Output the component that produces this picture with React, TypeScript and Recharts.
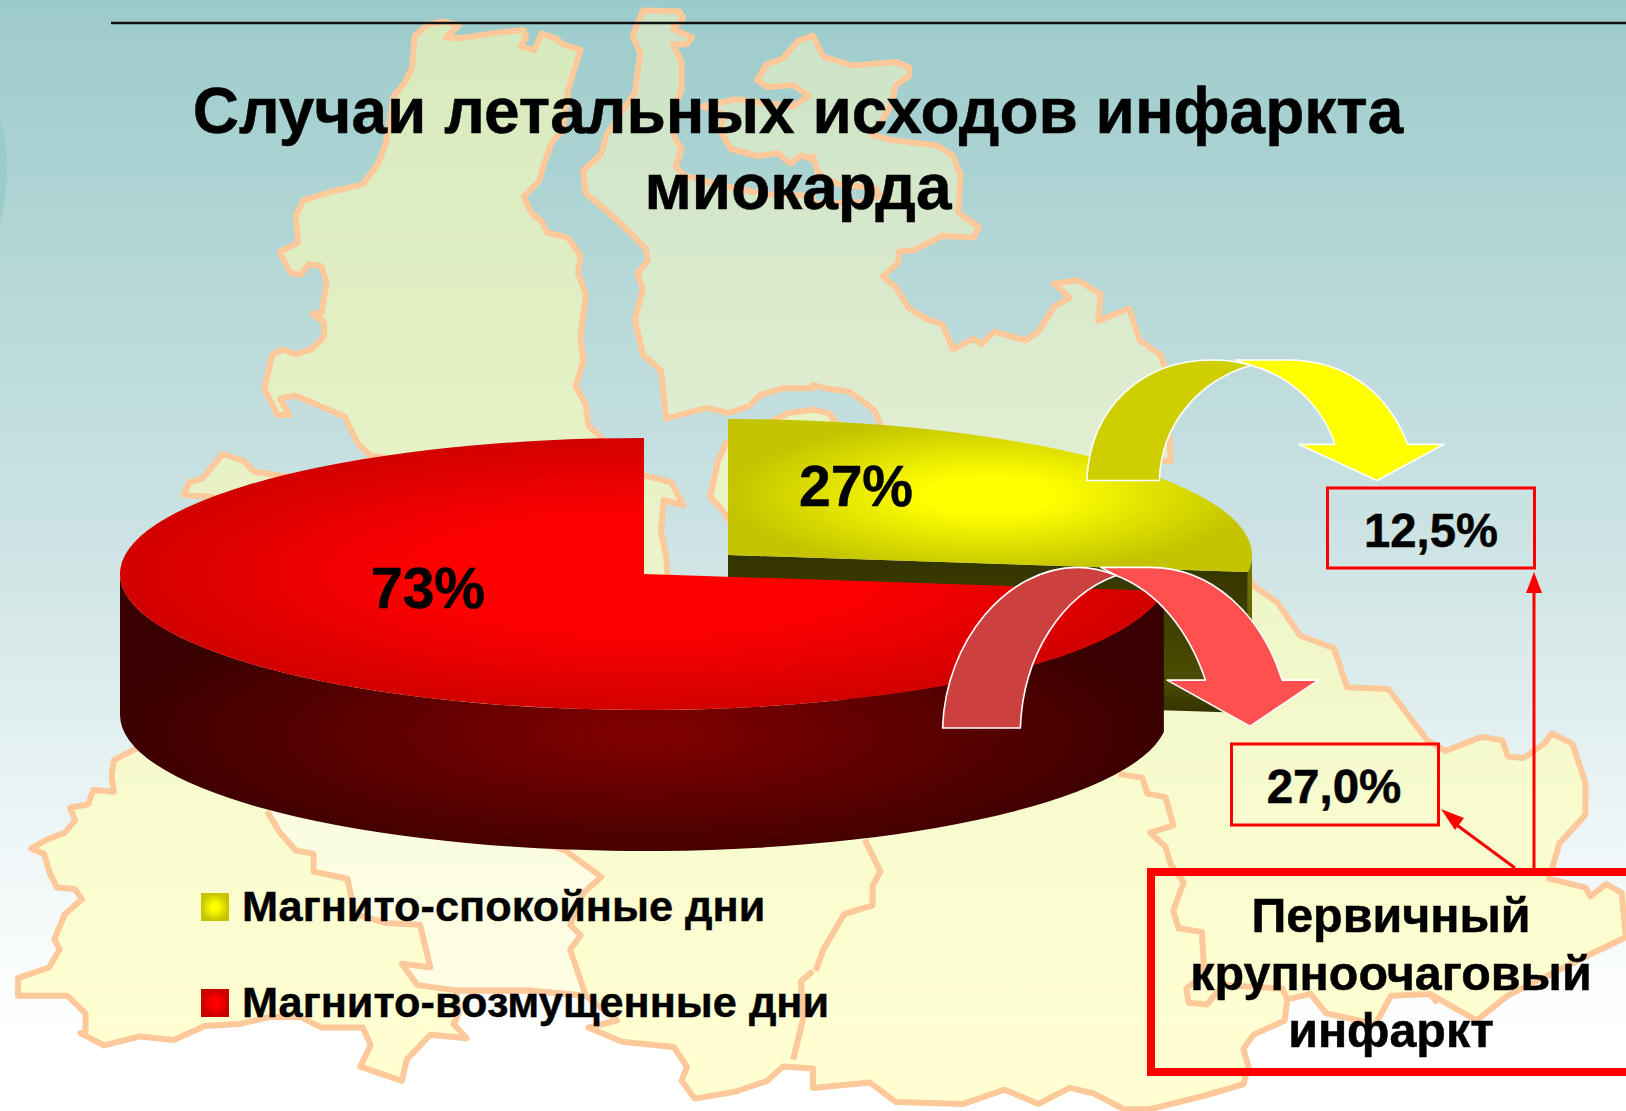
import { PieChart, Pie, Cell, Legend } from "recharts";

const categories = ["Магнито-спокойные дни", "Магнито-возмущенные дни"];
const shares = [27, 73];
const titleLines = ["Случаи летальных исходов инфаркта", "миокарда"];
const primaryInfarct = ["12,5%", "27,0%"];
const calloutLines = ["Первичный", "крупноочаговый", "инфаркт"];

const pieData = categories.map((name, i) => ({ name, value: shares[i] }));

const W = 1626;
const H = 1111;
const FONT = "'Liberation Sans', Arial, sans-serif";

// flattened 3d pie
const SQUASH = 136 / 524;
const DEPTH = 141;
const OFFSETS = [{ dx: 84, dy: -19 }, { dx: 0, dy: 0 }];
const FACES = ["url(#yellowFace)", "url(#redFace)"];
const WALLS = ["url(#yellowWall)", "url(#redWall)"];
const SWATCHES = ["url(#yellowFace)", "url(#redSwatch)"];

function Slice3D(props: any) {
  const { cx, cy, outerRadius: r, startAngle, endAngle, index } = props;
  const { dx, dy } = OFFSETS[index];
  const rx = r;
  const ry = r * SQUASH;
  const ox = cx + dx;
  const oy = cy + dy;
  const pt = (a: number, d = 0) => {
    const t = (a * Math.PI) / 180;
    return `${ox + rx * Math.cos(t)},${oy - ry * Math.sin(t) + d}`;
  };
  const hi = Math.max(startAngle, endAngle);
  const lo = Math.min(startAngle, endAngle);
  const large = hi - lo > 180 ? 1 : 0;
  const face = `M${ox},${oy} L${pt(hi)} A${rx},${ry} 0 ${large} 1 ${pt(lo)} Z`;

  // only the front half of the rim shows
  const wallHi = Math.min(hi, 0);
  const wallLo = Math.max(lo, -180);
  const wall = `M${pt(wallHi)} A${rx},${ry} 0 0 1 ${pt(wallLo)} L${pt(wallLo, DEPTH)} A${rx},${ry} 0 0 0 ${pt(wallHi, DEPTH)} Z`;
  const cut = `M${ox},${oy} L${pt(lo)} L${pt(lo, DEPTH)} L${ox},${oy + DEPTH} Z`;

  return (
    <g>
      {index === 0 && <path d={cut} fill="url(#yellowCut)" />}
      {wallHi > wallLo && <path d={wall} fill={WALLS[index]} />}
      <path d={face} fill={FACES[index]} />
    </g>
  );
}

const seg = (ox: number, oy: number, s: string) =>
  s.trim().split(/\s+/).map((p) => {
    const [x, y] = p.split(",").map(Number);
    return `${(ox + x / 1.929).toFixed(1)},${(oy + y / 2.82).toFixed(1)}`;
  }).join(" ");
const TL = (s: string) => seg(0, 0, s);
const TR = (s: string) => seg(813, 0, s);
const BL = (s: string) => seg(0, 556, s);
const BR = (s: string) => seg(813, 556, s);

const regionNorth = [
  TL("800,100 825,70 855,60 885,72 860,105 890,108 960,92 1010,85 1015,105 1005,130 1030,142 1045,95 1075,110 1085,125 1120,140 1105,210 1095,260 1085,370 1065,400 1050,460 1040,510 1010,555 1025,600 1045,625 1055,655 1095,670 1120,720 1115,770 1130,830 1120,950 1125,1020 1110,1090 1130,1140 1135,1200 1165,1240 1240,1340 1295,1360 1318,1425 1280,1410 1275,1500 1285,1568"),
  BL("1290,100"),
  TL("400,1400 355,1395 365,1360 390,1350 430,1280 470,1300 490,1330 560,1345 740,1290 715,1285 690,1250 665,1175 570,1115 540,1125 558,1170 535,1170 510,1095 525,1000 545,985 570,1000 600,985 625,950 625,910 603,885 620,885 630,800 620,750 595,745 580,775 560,770 540,710 575,685 570,610 585,565 640,540 700,520 715,490 730,460 745,400 760,270 780,235 795,190"),
].join(" ");

const regionMiddle = [
  TL("1240,30 1310,32 1318,50 1298,82 1335,105 1325,125 1298,125 1315,175 1315,250 1305,290 1300,385 1315,420 1303,470 1320,495 1400,525 1480,548 1568,552"),
  TR("0,575 100,570 130,550 120,530 50,520 10,490 0,440"),
  TL("1568,450 1545,438 1525,462 1500,432 1460,440 1410,420 1390,370 1395,320 1355,300 1420,280 1500,295 1530,300 1560,270 1530,240 1480,245 1460,225 1480,180 1510,165 1540,115 1568,100"),
  TR("0,100 20,160 75,185 160,175 185,190 185,215 160,240 150,300 115,380 150,395 240,410 270,440 285,495 280,600 320,640 310,670 250,665 195,705 165,710 165,740 135,780 160,810 185,870 220,900 250,915 270,985 310,955 325,970 350,935 410,960 435,935 465,865 495,840 465,800 510,790 555,830 550,905 610,870 630,960 670,1000 680,1040 690,1300 130,1300 130,1200 120,1160 95,1130 70,1105 25,1095 0,1085"),
  TL("1568,1095 1510,1095 1465,1115 1445,1145 1405,1165 1365,1150 1285,1180 1275,1045 1240,1000 1225,900 1240,815 1230,770 1250,735 1245,700 1190,620 1130,545 1125,480 1160,435 1170,380 1225,260 1235,150 1220,100"),
].join(" ");

const regionSouth = [
  BL("260,545 220,575 215,620 220,665 180,660 170,700 135,710 145,745 125,780 90,800 60,825 85,840 95,890 110,935 145,940 158,968 125,1010 105,1080 115,1110 95,1160 35,1190 35,1240 130,1240 165,1290 165,1340 155,1345 200,1380 270,1355 335,1365 395,1325 460,1320 520,1300 580,1300 620,1330 700,1330 715,1380 695,1440 775,1480 785,1420 830,1350 900,1360 875,1320 885,1290 880,1225 1020,1225 1130,1240 1190,1310 1135,1330 1200,1370 1300,1385 1325,1440 1315,1480 1340,1530 1420,1510 1480,1480 1510,1440 1568,1445"),
  BR("0,1500 110,1485 160,1540 290,1545 370,1505 435,1545 495,1500 540,1515 600,1560 650,1560 760,1520 830,1490 840,1440 830,1390 850,1350 910,1310 915,1250 960,1235 990,1290 1085,1320 1115,1240 1190,1235 1280,1310 1340,1240 1490,1130 1568,1075 1560,950 1530,925 1500,960 1490,935 1420,910 1440,810 1490,730 1490,640 1465,530 1425,500 1410,530 1370,570 1340,565 1330,520 1290,510 1220,550 1185,520 1110,375 1030,370 1005,260 940,225 895,130 850,85 830,30"),
  TR("700,1400 50,1200 30,1165 0,1155"),
  TL("1568,1155 1520,1165 1400,1250 1385,1300 1370,1400 1400,1450 1420,1500"),
  BL("1420,60 1300,150"),
].join(" ");

const regionCentre = BL("515,720 540,780 570,830 605,840 605,890 670,910 685,1010 745,1035 810,1040 830,1160 775,1150 805,1210 880,1225 1020,1225 1130,1240 1100,1110 1120,1070 1100,1040 1125,950 1160,905 1090,830 800,700");

const innerLines = [
  BR("100,800 130,890 115,930 115,985 60,1010 20,1110 5,1170"),
  BL("1568,1170 1545,1200 1550,1300 1530,1420"),
  BR("590,615 635,625 645,670 680,680 695,760 650,780 680,820 690,870 715,920 695,1000 705,1050 750,1060 755,1180 720,1220 725,1260 760,1265 790,1210 905,1220 915,1250"),
  BR("1190,1235 1205,1260"),
];

function Backdrop() {
  return (
    <svg width={W} height={H} style={{ position: "absolute", left: 0, top: 0 }}>
      <defs>
        <linearGradient id="sky" x1="0" y1="0" x2="0" y2="1">
          <stop offset="0" stopColor="#9ccbcb" />
          <stop offset="0.5" stopColor="#cfe4e4" />
          <stop offset="0.75" stopColor="#eef6f7" />
          <stop offset="0.93" stopColor="#ffffff" />
        </linearGradient>
        <radialGradient id="yellowFace">
          <stop offset="0.25" stopColor="#ffff00" />
          <stop offset="1" stopColor="#c4c400" />
        </radialGradient>
        <radialGradient id="redFace">
          <stop offset="0.4" stopColor="#ff0000" />
          <stop offset="1" stopColor="#d20000" />
        </radialGradient>
        <radialGradient id="redSwatch">
          <stop offset="0.25" stopColor="#ff0000" />
          <stop offset="1" stopColor="#c80000" />
        </radialGradient>
        <radialGradient id="redWall" cx="0.5" cy="0.58" r="0.52">
          <stop offset="0" stopColor="#820000" />
          <stop offset="1" stopColor="#380000" />
        </radialGradient>
        <linearGradient id="yellowWall" x1="0" y1="0" x2="0" y2="1">
          <stop offset="0" stopColor="#7a7a00" />
          <stop offset="1" stopColor="#404000" />
        </linearGradient>
        <linearGradient id="yellowCut" x1="0" y1="0" x2="0" y2="1">
          <stop offset="0" stopColor="#333300" />
          <stop offset="0.8" stopColor="#4c4c00" />
          <stop offset="1" stopColor="#333300" />
        </linearGradient>
      </defs>
      <rect width={W} height={H} fill="url(#sky)" />
      <circle cx={-193} cy={170} r={200} fill="#8fc6c6" opacity={0.6} />
      <g stroke="#fdc89a" strokeWidth={6} strokeLinejoin="round">
        <polygon points={regionNorth} fill="#ffffb4" fillOpacity={0.58} />
        <polygon points={regionMiddle} fill="#fffcc0" fillOpacity={0.48} />
        <polygon points={regionSouth} fill="#ffffb4" fillOpacity={0.62} />
        <polygon points={regionCentre} fill="#ffffff" fillOpacity={0.4} stroke="none" />
        <polyline points={regionCentre} fill="none" />
        {innerLines.map((p, i) => <polyline key={i} points={p} fill="none" />)}
      </g>
      <line x1={111} x2={W} y1={23} y2={23} stroke="#111" strokeWidth={2.5} />
    </svg>
  );
}

function Annotations() {
  const boldText = { fontFamily: FONT, fontWeight: 700, fill: "#000", stroke: "#000", strokeWidth: 0.5 };
  return (
    <svg width={W} height={H} style={{ position: "absolute", left: 0, top: 0, pointerEvents: "none" }}>
      <text x={798} y={133} textAnchor="middle" fontSize={64} {...boldText}>{titleLines[0]}</text>
      <text x={798} y={208.5} textAnchor="middle" fontSize={64} {...boldText}>{titleLines[1]}</text>

      <text x={856} y={506} textAnchor="middle" fontSize={57} {...boldText}>{shares[0]}%</text>
      <text x={428} y={608} textAnchor="middle" fontSize={57} {...boldText}>{shares[1]}%</text>

      <g transform={`translate(813 0) scale(${1 / 1.929} ${1 / 2.82})`} stroke="#fff" strokeWidth={1.6} strokeLinejoin="round">
        <path vectorEffect="non-scaling-stroke" fill="#ffff00" d="M815,1015 L915,1015 C1030,1015 1110,1110 1147,1253 L1217,1253 L1088,1355 L937,1253 L1007,1253 C980,1140 920,1060 845,1030 Z" />
        <path vectorEffect="non-scaling-stroke" fill="#cfcf00" d="M528,1355 C535,1140 640,1015 770,1015 C795,1015 820,1020 845,1030 C740,1075 672,1200 668,1355 Z" />
      </g>
      <g transform={`translate(813 556) scale(${1 / 1.929} ${1 / 2.82})`} stroke="#fff" strokeWidth={1.6} strokeLinejoin="round">
        <path vectorEffect="non-scaling-stroke" fill="#ff5050" d="M555,32 L650,32 C770,32 865,165 905,350 L975,350 L843,480 L683,350 L757,350 C725,210 665,100 585,55 Z" />
        <path vectorEffect="non-scaling-stroke" fill="#cc4040" d="M250,485 C255,240 375,32 510,32 C535,32 560,40 585,55 C480,110 405,280 400,485 Z" />
      </g>

      <g fill="none" stroke="#ff0000">
        <rect x={1327.5} y={488} width={207} height={80} strokeWidth={3} />
        <rect x={1231.5} y={744} width={207} height={81} strokeWidth={3} />
        <rect x={1151} y={872} width={600} height={200} strokeWidth={8} />
        <line x1={1534} y1={868} x2={1534} y2={590} strokeWidth={3} />
        <line x1={1515} y1={868} x2={1450} y2={820} strokeWidth={3} />
      </g>
      <polygon points="1534,572 1526,593 1542,593" fill="#ff0000" />
      <polygon points="1441,809 1464,818 1455,830" fill="#ff0000" />

      <text x={1431} y={547} textAnchor="middle" fontSize={47.2} {...boldText}>{primaryInfarct[0]}</text>
      <text x={1334} y={803} textAnchor="middle" fontSize={47.5} {...boldText}>{primaryInfarct[1]}</text>

      {calloutLines.map((line, i) => (
        <text key={line} x={1391} y={932 + i * 57.5} textAnchor="middle" fontSize={48.4} {...boldText}>{line}</text>
      ))}
    </svg>
  );
}

function LegendBlock({ payload }: any) {
  return (
    <div>
      {(payload ?? []).map((entry: any, i: number) => (
        <div key={i} style={{ position: "absolute", left: 0, top: i * 95.5, height: 50, whiteSpace: "nowrap" }}>
          <svg width={28} height={28} style={{ position: "absolute", left: 0, top: 8 }}>
            <rect width={28} height={28} fill={SWATCHES[i]} />
          </svg>
          <span style={{ position: "absolute", left: 41, top: -4, fontFamily: FONT, fontWeight: 700, fontSize: 43.3, color: "#000", lineHeight: "50px", WebkitTextStroke: "0.4px #000" }}>
            {entry.value}
          </span>
        </div>
      ))}
    </div>
  );
}

export default function App() {
  return (
    <div style={{ position: "absolute", left: 0, top: 0, width: W, height: H, overflow: "hidden", background: "#fff" }}>
      <Backdrop />
      <div style={{ position: "absolute", left: 0, top: 0 }}>
        <PieChart width={W} height={H} margin={{ top: 0, right: 0, bottom: 0, left: 0 }}>
          <Pie
            data={pieData}
            dataKey="value"
            nameKey="name"
            cx={644}
            cy={574}
            innerRadius={0}
            outerRadius={524}
            startAngle={90}
            endAngle={-270}
            stroke="none"
            isAnimationActive={false}
            shape={Slice3D}
          >
            {pieData.map((d) => <Cell key={d.name} />)}
          </Pie>
          <Legend
            content={LegendBlock}
            itemSorter={null}
            wrapperStyle={{ position: "absolute", left: 201, top: 885, width: 700, height: 150 }}
          />
        </PieChart>
      </div>
      <Annotations />
    </div>
  );
}
